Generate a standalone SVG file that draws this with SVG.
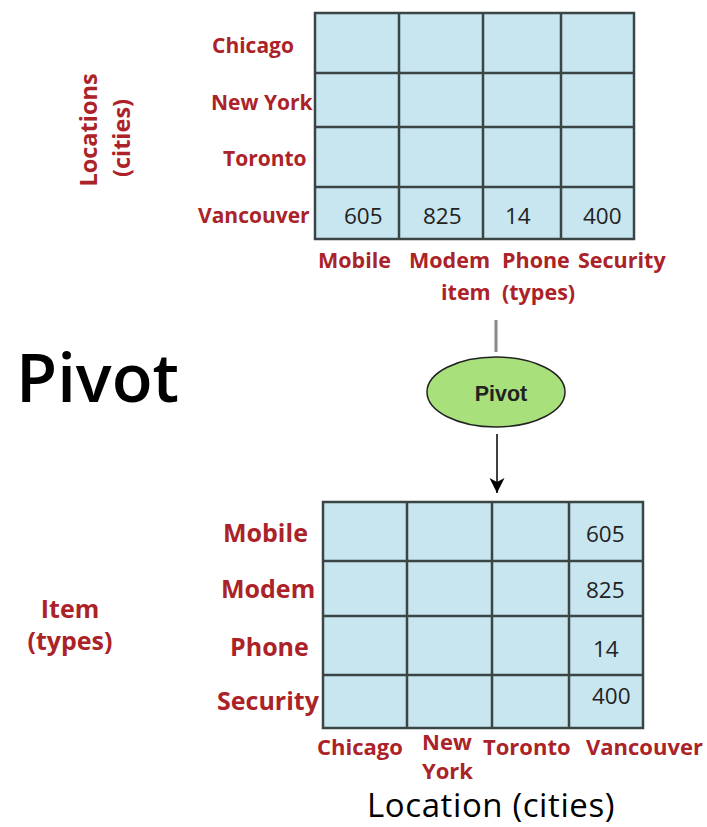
<svg xmlns="http://www.w3.org/2000/svg" width="707" height="827" viewBox="0 0 707 827">
<defs>
<style>
.cell{fill:#c8e6f0;stroke:#3b4545;stroke-width:2.5}
.grid{stroke:#3b4545;stroke-width:2.5;fill:none}
.lbl{font-family:"Open Sans","Liberation Sans",sans-serif;font-weight:700;fill:#ab2328}
.num{font-family:"Open Sans","Liberation Sans",sans-serif;fill:#222;font-size:22.5px}
.big{font-family:"Open Sans","Liberation Sans",sans-serif;fill:#000}
</style>
<marker id="arr" markerWidth="16" markerHeight="16" refX="15" refY="8" orient="auto" markerUnits="userSpaceOnUse" viewBox="0 0 16 16">
<path d="M0,0.5 L15,8 L0,15.5 L4,8 Z" fill="#000"/>
</marker>
</defs>
<rect width="707" height="827" fill="#fff"/>

<g id="title">
<text class="big" x="16" y="402" font-size="67" font-weight="600">Pivot</text>
</g>

<g id="top-table">
<rect class="cell" x="315" y="13" width="319" height="226"/>
<path class="grid" d="M399,13V239M483,13V239M561,13V239M315,73H634M315,127H634M315,187H634"/>
<text class="num" x="344" y="224">605</text>
<text class="num" x="423" y="224">825</text>
<text class="num" x="505" y="224">14</text>
<text class="num" x="583" y="224">400</text>
</g>

<g id="top-row-labels" class="lbl" font-size="21">
<text x="212" y="53">Chicago</text>
<text x="211" y="110">New York</text>
<text x="223" y="166">Toronto</text>
<text x="198" y="223">Vancouver</text>
</g>

<g id="top-col-labels" class="lbl" font-size="21.5">
<text x="318" y="268">Mobile</text>
<text x="409" y="268">Modem</text>
<text x="502" y="268">Phone</text>
<text x="578" y="268">Security</text>
<text x="441" y="300">item</text>
<text x="502" y="300">(types)</text>
</g>

<g id="locations-label" class="lbl" font-size="23.5">
<text transform="translate(97,130) rotate(-90)" text-anchor="middle">Locations</text>
<text transform="translate(130,138) rotate(-90)" text-anchor="middle">(cities)</text>
</g>

<g id="pivot-node">
<ellipse cx="496" cy="392" rx="69" ry="35" fill="#a8e07c" stroke="#222" stroke-width="1.5"/>
<text x="501" y="401" text-anchor="middle" font-family="'Liberation Sans',Arial,sans-serif" font-weight="700" font-size="21.5" fill="#222">Pivot</text>
</g>

<g id="connectors">
<line x1="496" y1="320" x2="496" y2="352" stroke="#888" stroke-width="3"/>
<line x1="497" y1="434" x2="497" y2="493" stroke="#000" stroke-width="1.5" marker-end="url(#arr)"/>
</g>

<g id="bottom-table">
<rect class="cell" x="323" y="502" width="320" height="226"/>
<path class="grid" d="M407,502V728M492,502V728M569,502V728M323,561H643M323,616H643M323,675H643"/>
<text class="num" x="586" y="542">605</text>
<text class="num" x="586" y="598">825</text>
<text class="num" x="593" y="657">14</text>
<text class="num" x="592" y="704">400</text>
</g>

<g id="bottom-row-labels" class="lbl" font-size="25">
<text x="223" y="542">Mobile</text>
<text x="221" y="598">Modem</text>
<text x="230" y="656">Phone</text>
<text x="217" y="710">Security</text>
</g>

<g id="bottom-col-labels" class="lbl" font-size="22">
<text x="317" y="755">Chicago</text>
<text x="422" y="750">New</text>
<text x="422" y="779">York</text>
<text x="483" y="755">Toronto</text>
<text x="586" y="755">Vancouver</text>
</g>

<g id="item-label" class="lbl" font-size="25">
<text x="70" y="618" text-anchor="middle">Item</text>
<text x="70" y="650" text-anchor="middle">(types)</text>
</g>

<g id="location-title">
<text class="big" x="367" y="817" font-size="33" letter-spacing="0.6">Location (cities)</text>
</g>
</svg>
